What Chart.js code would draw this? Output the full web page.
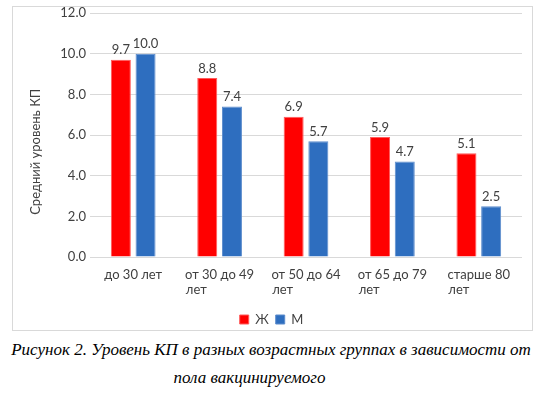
<!DOCTYPE html>
<html>
<head>
<meta charset="utf-8">
<script src="https://cdn.jsdelivr.net/npm/chart.js@4.4.1/dist/chart.umd.min.js"></script>
<style>
  body { margin: 0; background: #fff; width: 551px; height: 394px; position: relative; overflow: hidden; }
  .chart-container { position: absolute; left: 12px; top: 6px; width: 521px; height: 325px; box-sizing: border-box; border: 1px solid #d9d9d9; }
  .caption { position: absolute; left: 0; font-family: "Liberation Serif", serif; font-style: italic; font-size: 17px; color: #000; text-align: center; white-space: nowrap; }
</style>
</head>
<body>
<div class="chart-container">
  <canvas id="kp-chart" width="519" height="323"></canvas>
</div>
<div class="caption" style="top: 340px; width: 542px;">Рисунок 2. Уровень КП в разных возрастных группах в зависимости от</div>
<div class="caption" style="top: 368px; width: 499px;">пола вакцинируемого</div>
<script>
// age groups (second line of a label wraps under the first)
const categories = [
  ['до 30 лет'],
  ['от 30 до 49', 'лет'],
  ['от 50 до 64', 'лет'],
  ['от 65 до 79', 'лет'],
  ['старше 80', 'лет'],
];
const women = [9.7, 8.8, 6.9, 5.9, 5.1];
const men = [10.0, 7.4, 5.7, 4.7, 2.5];
const yTicks = [0, 2, 4, 6, 8, 10, 12];

const FONT = 'Lato, "Open Sans", sans-serif';
const TEXT = '#404040';
const SIZE = 13;

// Excel keeps wrapped lines left aligned inside a centred block,
// so pad the shorter lines with spaces up to the widest one
const measure = document.createElement('canvas').getContext('2d');
measure.font = SIZE + 'px ' + FONT;
const padLines = (lines) => {
  const widest = Math.max(...lines.map((l) => measure.measureText(l).width));
  const space = measure.measureText('\u00a0').width;
  return lines.map((l) => l + '\u00a0'.repeat(Math.round((widest - measure.measureText(l).width) / space)));
};

// value labels above the bars
const barValues = {
  id: 'barValues',
  afterDatasetsDraw(chart) {
    const ctx = chart.ctx;
    ctx.save();
    ctx.font = SIZE + 'px ' + FONT;
    ctx.fillStyle = TEXT;
    ctx.textAlign = 'center';
    ctx.textBaseline = 'bottom';
    chart.data.datasets.forEach((ds, i) => {
      chart.getDatasetMeta(i).data.forEach((bar, j) => {
        ctx.fillText(ds.data[j].toFixed(1), bar.x, bar.y - 3);
      });
    });
    ctx.restore();
  },
};

new Chart(document.getElementById('kp-chart'), {
  type: 'bar',
  data: {
    labels: categories,
    datasets: [
      {
        label: 'Ж',
        data: women,
        backgroundColor: '#ff0000',
        borderColor: '#ff5a5a',
        borderWidth: 1,
        categoryPercentage: 0.572,
        barPercentage: 0.81,
      },
      {
        label: 'М',
        data: men,
        backgroundColor: '#2e6ebf',
        borderColor: '#5c8ccc',
        borderWidth: 1,
        categoryPercentage: 0.572,
        barPercentage: 0.81,
      },
    ],
  },
  options: {
    responsive: false,
    animation: false,
    layout: { padding: { left: 8, right: 10, top: 6, bottom: -6 } },
    plugins: {
      tooltip: { enabled: false },
      legend: {
        position: 'bottom',
        labels: {
          font: { family: FONT, size: SIZE },
          color: TEXT,
          boxWidth: 9,
          boxHeight: 9,
          padding: 7,
        },
      },
    },
    scales: {
      x: {
        grid: { display: false },
        border: { display: false },
        afterFit: (scale) => { scale.height += 7; },
        ticks: {
          font: { family: FONT, size: SIZE, lineHeight: 1.15 },
          color: TEXT,
          padding: 2,
          maxRotation: 0,
          autoSkip: false,
          callback: (v, i) => padLines(categories[i]),
        },
      },
      y: {
        min: 0,
        max: 12,
        afterBuildTicks: (scale) => { scale.ticks = yTicks.map((v) => ({ value: v })); },
        afterFit: (scale) => { scale.width = 69; scale.paddingTop = 0; },
        grid: { color: '#d9d9d9', drawTicks: false },
        border: { display: false },
        ticks: {
          font: { family: FONT, size: SIZE },
          color: TEXT,
          padding: 4,
          callback: (v) => v.toFixed(1),
        },
        title: {
          display: true,
          text: 'Средний уровень КП' + '\u00a0'.repeat(10),
          font: { family: FONT, size: SIZE },
          color: TEXT,
          padding: { top: 7, bottom: 0 },
        },
      },
    },
  },
  plugins: [barValues],
});
</script>
</body>
</html>
